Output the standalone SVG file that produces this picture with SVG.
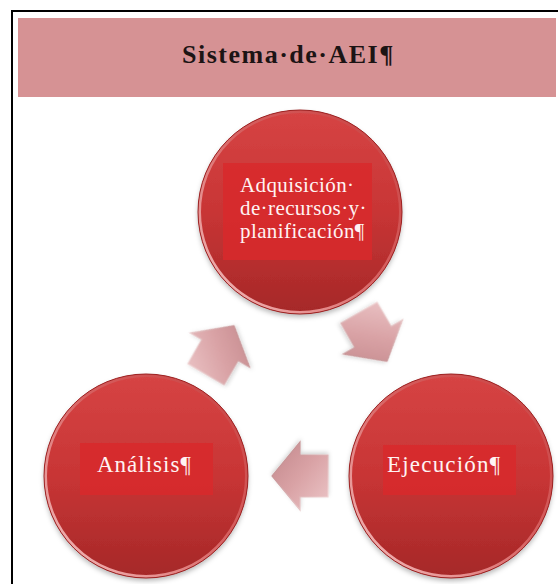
<svg xmlns="http://www.w3.org/2000/svg" width="558" height="584" viewBox="0 0 558 584">
<defs>
<style>
.ball{fill:url(#ballFill);filter:url(#shadow)}
.rim{fill:none;stroke:url(#rimGrad);stroke-width:3}
.edge{fill:none;stroke:#9c2222;stroke-width:1}
.lbox{fill:#d8292c;opacity:0.85}
.lbl{font-family:"Liberation Serif","Times New Roman",serif;fill:#fff3f3}
.arrow{fill:url(#arrowFill);stroke:url(#arrowEdge);stroke-width:1.2;filter:url(#ashadow)}
.title{font-family:"Liberation Serif","Times New Roman",serif;font-weight:bold;font-size:26px;letter-spacing:1.5px;fill:#1c1414}
</style>
<linearGradient id="ballFill" x1="0" y1="0" x2="0" y2="1">
<stop offset="0" stop-color="#d64444"/>
<stop offset="0.5" stop-color="#c83535"/>
<stop offset="1" stop-color="#a52828"/>
</linearGradient>
<linearGradient id="rimGrad" x1="1" y1="0" x2="0" y2="1">
<stop offset="0" stop-color="#c84040"/>
<stop offset="0.45" stop-color="#d66060"/>
<stop offset="1" stop-color="#f6c2c2"/>
</linearGradient>
<linearGradient id="arrowFill" x1="0" y1="0" x2="1" y2="1">
<stop offset="0" stop-color="#ecc6c8"/>
<stop offset="0.5" stop-color="#d9a2a5"/>
<stop offset="1" stop-color="#c1868a"/>
</linearGradient>
<linearGradient id="arrowEdge" x1="0" y1="0" x2="1" y2="1">
<stop offset="0" stop-color="#f6dede"/>
<stop offset="1" stop-color="#b87c7f"/>
</linearGradient>
<filter id="shadow" x="-20%" y="-20%" width="140%" height="150%">
<feDropShadow dx="0" dy="3" stdDeviation="2.5" flood-color="#000" flood-opacity="0.28"/>
</filter>
<filter id="ashadow" x="-30%" y="-30%" width="160%" height="160%">
<feDropShadow dx="0" dy="2" stdDeviation="2" flood-color="#000" flood-opacity="0.18"/>
</filter>
<path id="arw" d="M-28,-21 L0,-21 L0,-34 L28,0 L0,34 L0,21 L-28,21 Z"/>
</defs>
<rect width="558" height="584" fill="#ffffff"/>
<path d="M12,584 V11 H558" fill="none" stroke="#000" stroke-width="2"/>

<g id="header">
<rect x="18" y="18" width="538" height="79" fill="#d69294"/>
<text class="title" x="182" y="63">Sistema·de·AEI¶</text>
</g>

<g id="connectors">
<use href="#arw" class="arrow" transform="translate(373,337) rotate(60)"/>
<use href="#arw" class="arrow" transform="translate(300,476) rotate(180)"/>
<use href="#arw" class="arrow" transform="translate(220,350) rotate(-60)"/>
</g>

<g id="node-adquisicion">
<circle class="ball" cx="300" cy="212" r="102"/>
<circle class="rim" cx="300" cy="212" r="100.5"/>
<circle class="edge" cx="300" cy="212" r="102"/>
<rect class="lbox" x="223" y="163" width="149" height="97"/>
<text class="lbl" font-size="21" letter-spacing="0.4" x="240" y="192">Adquisición·</text>
<text class="lbl" font-size="21" letter-spacing="0.4" x="240" y="215">de·recursos·y·</text>
<text class="lbl" font-size="21" letter-spacing="0.4" x="240" y="238">planificación¶</text>
</g>

<g id="node-analisis">
<circle class="ball" cx="146" cy="476" r="102"/>
<circle class="rim" cx="146" cy="476" r="100.5"/>
<circle class="edge" cx="146" cy="476" r="102"/>
<rect class="lbox" x="80" y="443" width="133" height="52"/>
<text class="lbl" font-size="23" letter-spacing="1" x="97" y="472">Análisis¶</text>
</g>

<g id="node-ejecucion">
<circle class="ball" cx="451" cy="476" r="102"/>
<circle class="rim" cx="451" cy="476" r="100.5"/>
<circle class="edge" cx="451" cy="476" r="102"/>
<rect class="lbox" x="383" y="445" width="133" height="50"/>
<text class="lbl" font-size="23" letter-spacing="1.2" x="387" y="472">Ejecución¶</text>
</g>
</svg>
